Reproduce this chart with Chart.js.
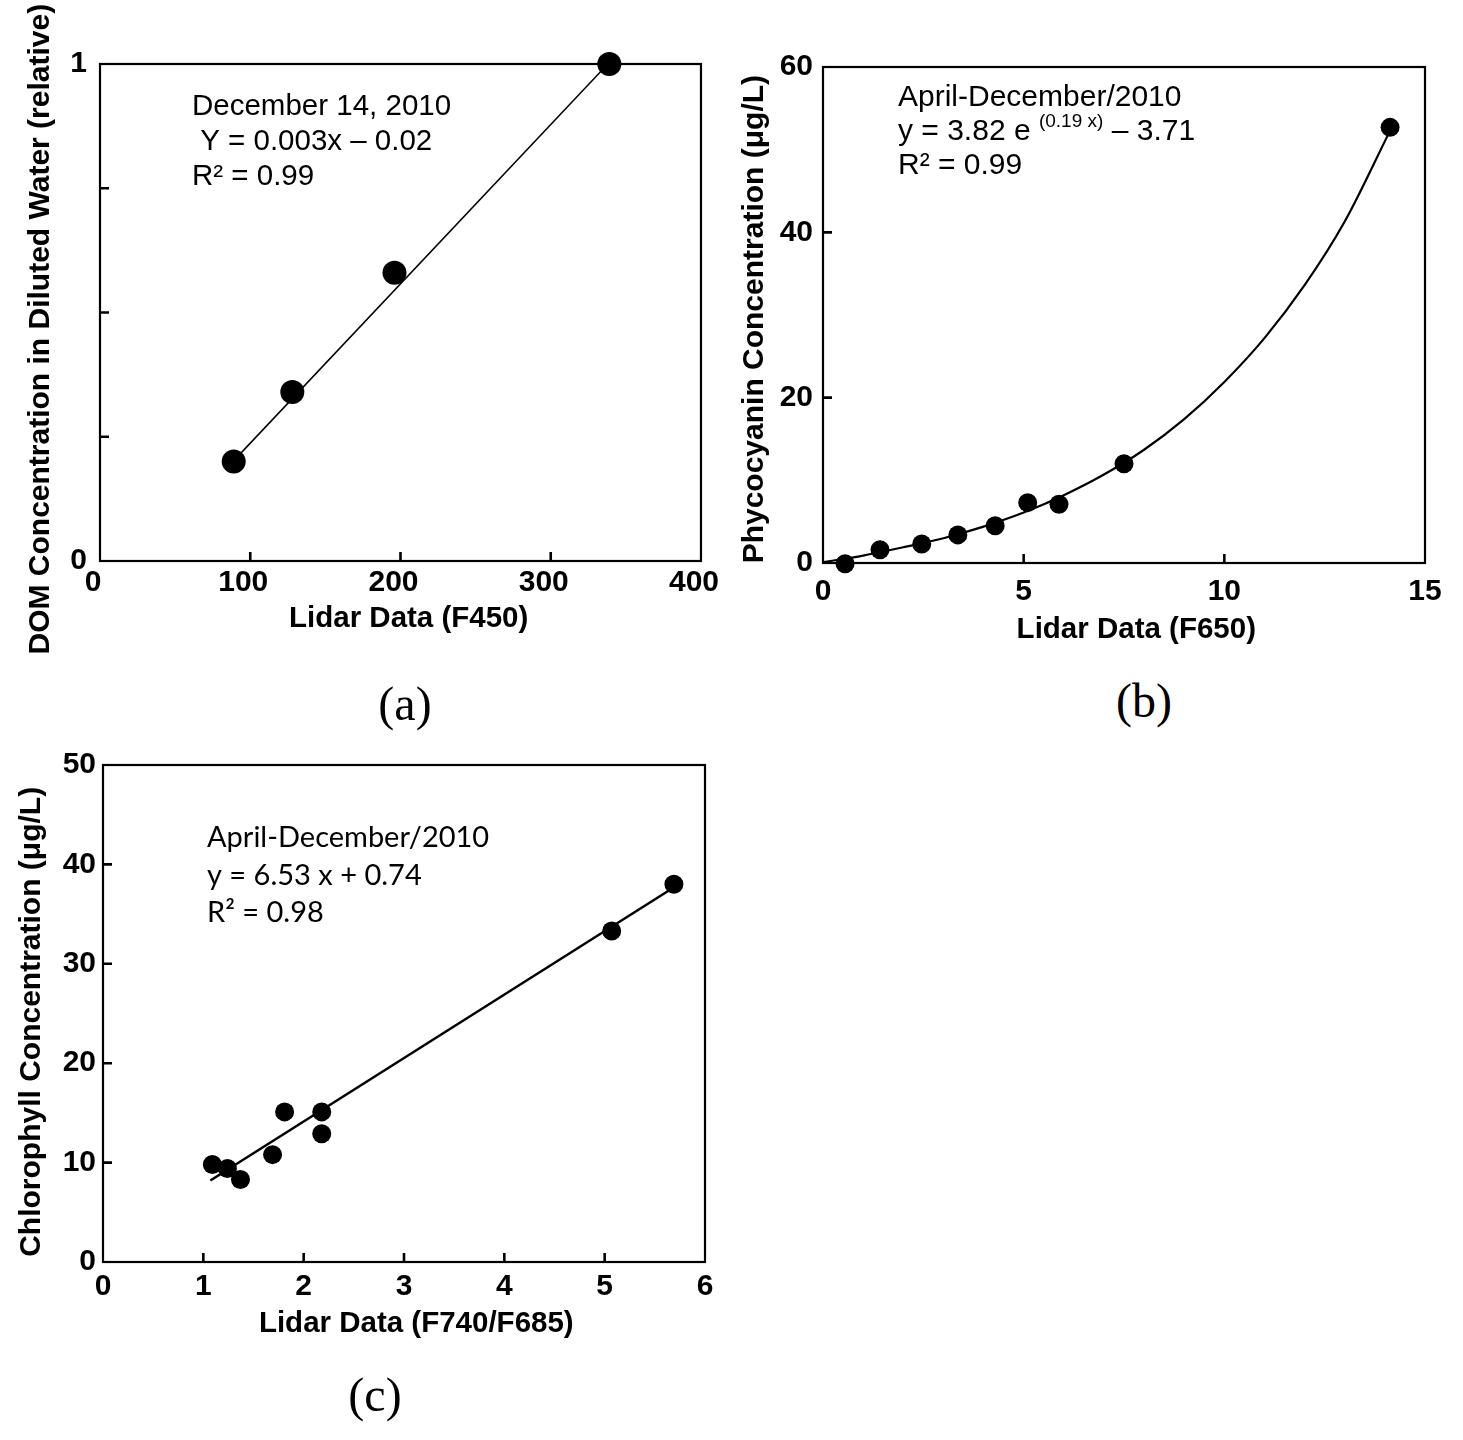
<!DOCTYPE html>
<html><head><meta charset="utf-8">
<script src="https://cdn.jsdelivr.net/npm/chart.js@4"></script>
<style>
body{margin:0;background:#fff;width:1463px;height:1440px;position:relative;overflow:hidden}
.wrap{position:absolute}
.lab{position:absolute;font-family:"Liberation Serif",serif;font-size:48px;color:#000;transform:translate(-50%,-50%);white-space:nowrap;line-height:1}
</style></head><body>
<div class="wrap" style="left:0;top:0"><canvas id="ca" width="730" height="660"></canvas></div>
<div class="wrap" style="left:730px;top:0"><canvas id="cb" width="733" height="660"></canvas></div>
<div class="wrap" style="left:0;top:700px"><canvas id="cc" width="730" height="700"></canvas></div>
<div class="lab" style="left:405px;top:704px">(a)</div>
<div class="lab" style="left:1144px;top:701px">(b)</div>
<div class="lab" style="left:375px;top:1395px">(c)</div>
<script>
// ---- (a) DOM vs Lidar F450 ----
const a_x = [89, 128, 196, 339];
const a_y = [0.20, 0.34, 0.58, 1.00];
const a_fitX = [90, 338];
const a_fitY = [0.205, 1.0];
const a_xTicks = [0, 100, 200, 300, 400];
const a_yTicks = [0, 0.25, 0.5, 0.75, 1];
const a_yTickLabels = ['0', '', '', '', '1'];
const a_xTitle = 'Lidar Data (F450)';
const a_yTitle = 'DOM Concentration in Diluted Water (relative)';
const a_notes = ['December 14, 2010', [' Y = 0.003x \u2013 0.02'], 'R\u00b2 = 0.99'];

// ---- (b) Phycocyanin vs Lidar F650 ----
const b_x = [0.55, 1.42, 2.46, 3.36, 4.29, 5.1, 5.88, 7.5, 14.13];
const b_y = [-0.1, 1.6, 2.3, 3.4, 4.5, 7.3, 7.1, 12.0, 52.7];
const b_fitX = [0, 1, 2, 3, 4, 5, 6, 7, 8, 9, 10, 11, 12, 13, 14.1];
const b_fitY = [0.1, 0.9, 1.9, 3.0, 4.4, 6.1, 8.2, 10.7, 13.7, 17.4, 21.9, 27.2, 33.6, 41.3, 52.0];
const b_xTicks = [0, 5, 10, 15];
const b_yTicks = [0, 20, 40, 60];
const b_xTitle = 'Lidar Data (F650)';
const b_yTitle = 'Phycocyanin Concentration (\u03bcg/L)';
const b_notes = ['April-December/2010', ['y = 3.82 e ', '^(0.19 x)', ' \u2013 3.71'], 'R\u00b2 = 0.99'];

// ---- (c) Chlorophyll vs Lidar F740/F685 ----
const c_x = [1.09, 1.24, 1.37, 1.69, 1.81, 2.18, 2.18, 5.07, 5.69];
const c_y = [9.8, 9.4, 8.3, 10.8, 15.1, 15.1, 12.9, 33.3, 38.0];
const c_fitX = [1.07, 5.66];
const c_fitY = [8.2, 37.5];
const c_xTicks = [0, 1, 2, 3, 4, 5, 6];
const c_yTicks = [0, 10, 20, 30, 40, 50];
const c_xTitle = 'Lidar Data (F740/F685)';
const c_yTitle = 'Chlorophyll Concentration (\u03bcg/L)';
const c_notes = ['April-December/2010', ['y = 6.53 x + 0.74'], 'R\u00b2 = 0.98'];

const SANS = "'Liberation Sans', Arial, sans-serif";
const zip = (xs, ys) => xs.map((v, i) => ({x: v, y: ys[i]}));

const frame = {
  id: 'frame',
  beforeDatasetsDraw(chart, args, o) {
    const {ctx, chartArea: a, scales: {x, y}} = chart;
    ctx.save();
    ctx.strokeStyle = '#000';
    ctx.lineWidth = o.box;
    ctx.strokeRect(a.left, a.top, a.right - a.left, a.bottom - a.top);
    ctx.lineWidth = o.tw;
    ctx.beginPath();
    x.ticks.forEach(t => {
      if (t.value <= x.min || t.value >= x.max) return;
      const p = x.getPixelForValue(t.value);
      ctx.moveTo(p, a.bottom); ctx.lineTo(p, a.bottom - o.len);
    });
    y.ticks.forEach(t => {
      if (t.value <= y.min || t.value >= y.max) return;
      const p = y.getPixelForValue(t.value);
      ctx.moveTo(a.left, p); ctx.lineTo(a.left + o.len, p);
    });
    ctx.stroke();
    ctx.restore();
  }
};

const notes = {
  id: 'notes',
  afterDraw(chart, args, o) {
    const ctx = chart.ctx;
    ctx.save();
    ctx.fillStyle = '#000';
    ctx.textBaseline = 'middle';
    ctx.textAlign = 'left';
    o.lines.forEach((ln, i) => {
      const segs = Array.isArray(ln) ? ln : [ln];
      let x = o.x;
      segs.forEach(s => {
        let sz = o.size, dy = 0, txt = s;
        if (s.startsWith('^')) { sz = Math.round(o.size * 0.62); dy = -o.size * 0.33; txt = s.slice(1); }
        ctx.font = sz + 'px ' + o.family;
        ctx.fillText(txt, x, o.ys[i] + dy);
        x += ctx.measureText(txt).width;
      });
    });
    ctx.restore();
  }
};

function build(id, P) {
  const canvas = document.getElementById(id);
  const W = canvas.width, H = canvas.height;
  const xtf = {family: SANS, size: 29.5, weight: 'bold', lineHeight: 1.2};
  const ytf = {family: SANS, size: 30, weight: 'bold', lineHeight: 1.2};
  const padL = P.yTitleX - ytf.size * 0.6;
  const yW = P.area.left - padL;
  const xH = P.xTitleY + xtf.size * 0.6 - P.area.bottom;
  const padB = H - P.area.bottom - xH;
  const tickFont = {family: SANS, size: 30, weight: 'bold', lineHeight: 1.2};
  new Chart(canvas, {
    type: 'scatter',
    data: {
      datasets: [
        {data: zip(P.px, P.py), backgroundColor: '#000', borderColor: '#000', pointRadius: P.r, pointHoverRadius: P.r, borderWidth: 0, clip: false, order: 0},
        {type: 'line', data: zip(P.fx, P.fy), borderColor: '#000', borderWidth: P.lw, pointRadius: 0, fill: false,
         cubicInterpolationMode: P.mono ? 'monotone' : 'default', tension: 0, clip: false, order: 1}
      ]
    },
    options: {
      responsive: false, animation: false, events: [],
      layout: {padding: {left: padL, top: P.area.top, right: W - P.area.right, bottom: padB}},
      plugins: {
        legend: {display: false}, tooltip: {enabled: false},
        frame: {box: 2.2, tw: 2.6, len: 9},
        notes: {lines: P.notes, x: P.nx, ys: P.ny, size: P.nsize, family: P.nfamily}
      },
      scales: {
        x: {
          type: 'linear', min: P.xt[0], max: P.xt[P.xt.length - 1],
          afterBuildTicks: s => { s.ticks = P.xt.map(v => ({value: v})); },
          afterFit: s => { s.height = xH; },
          grid: {display: false, drawTicks: false}, border: {display: false},
          ticks: {font: tickFont, color: '#000', padding: P.xpad, labelOffset: P.xoff || 0, maxRotation: 0, autoSkip: false,
                  callback: (v, i) => String(P.xt[i])},
          title: {display: true, text: ' '.repeat(P.xsh) + P.xTitle, font: xtf, color: '#000', padding: 0}
        },
        y: {
          type: 'linear', min: P.yt[0], max: P.yt[P.yt.length - 1],
          afterBuildTicks: s => { s.ticks = P.yt.map(v => ({value: v})); },
          afterFit: s => { s.width = yW; },
          grid: {display: false, drawTicks: false}, border: {display: false},
          ticks: {font: tickFont, color: '#000', padding: P.ypad, autoSkip: false,
                  callback: (v, i) => (P.ytl ? P.ytl[i] : String(P.yt[i]))},
          title: {display: true, text: P.yTitle + ' '.repeat(P.ysh), font: ytf, color: '#000', padding: 0}
        }
      }
    },
    plugins: [frame, notes]
  });
}

build('ca', {
  px: a_x, py: a_y, fx: a_fitX, fy: a_fitY, xt: a_xTicks, yt: a_yTicks, ytl: a_yTickLabels,
  xTitle: a_xTitle, yTitle: a_yTitle, notes: a_notes, xsh: 2, ysh: 4,
  area: {left: 100, top: 64, right: 703, bottom: 561}, yTitleX: 41, xTitleY: 619,
  r: 12, lw: 1.5, mono: false, xpad: 4, ypad: 13, xoff: -7,
  nx: 192, ny: [107, 142, 177], nsize: 29.5, nfamily: SANS
});
build('cb', {
  px: b_x, py: b_y, fx: b_fitX, fy: b_fitY, xt: b_xTicks, yt: b_yTicks,
  xTitle: b_xTitle, yTitle: b_yTitle, notes: b_notes, xsh: 3, ysh: 1,
  area: {left: 93, top: 67, right: 695, bottom: 563}, yTitleX: 25, xTitleY: 630,
  r: 9.5, lw: 2.2, mono: true, xpad: 11, ypad: 10,
  nx: 168, ny: [98, 132, 166], nsize: 30, nfamily: SANS
});
build('cc', {
  px: c_x, py: c_y, fx: c_fitX, fy: c_fitY, xt: c_xTicks, yt: c_yTicks,
  xTitle: c_xTitle, yTitle: c_yTitle, notes: c_notes, xsh: 3, ysh: 2,
  area: {left: 103, top: 65, right: 705, bottom: 562}, yTitleX: 32, xTitleY: 624,
  r: 9.5, lw: 2.5, mono: false, xpad: 7, ypad: 7,
  nx: 207, ny: [138, 176, 213], nsize: 29, nfamily: "Lato, 'Open Sans', sans-serif"
});
</script>
</body></html>
